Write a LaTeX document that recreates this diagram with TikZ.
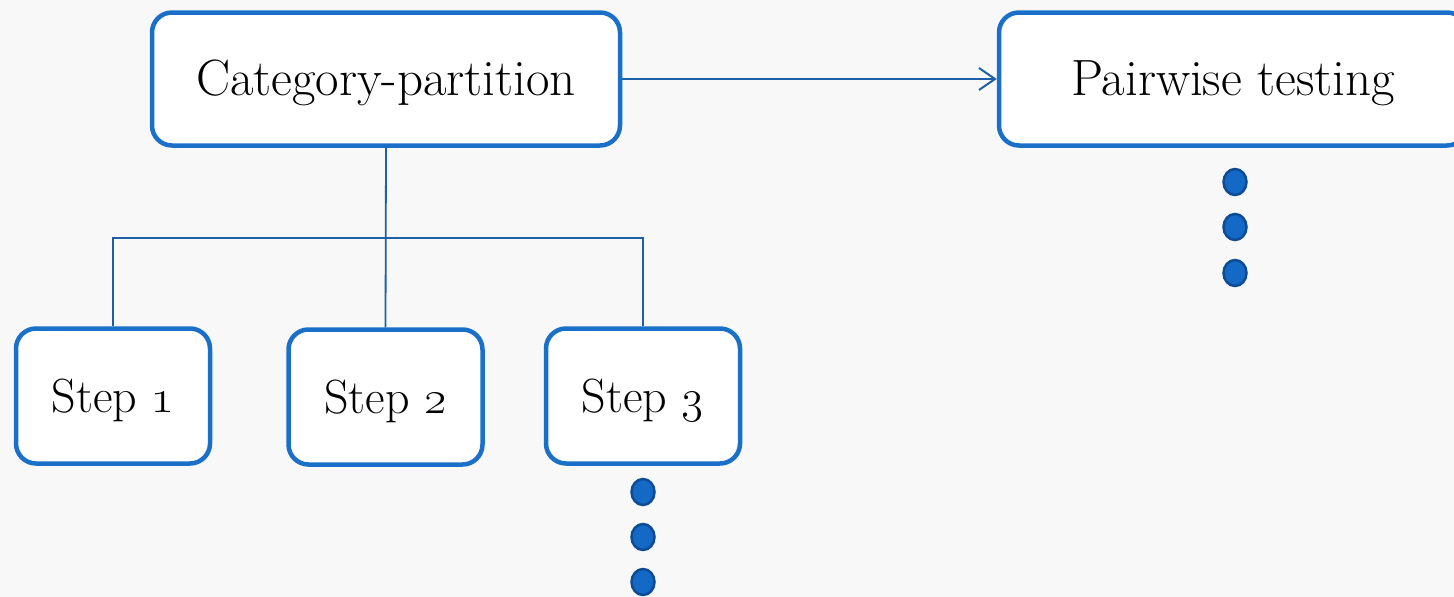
\documentclass[tikz,border=0pt]{standalone}
\usepackage{fix-cm}
\usetikzlibrary{arrows.meta,shapes.geometric}
\definecolor{boxblue}{HTML}{1A70C8}
\definecolor{lineblue}{HTML}{1F5FA8}
\definecolor{dotfill}{HTML}{1468C6}
\definecolor{dotedge}{HTML}{0D4C94}
\definecolor{bgcol}{HTML}{F8F8F8}
\tikzset{
  box/.style={draw=boxblue, line width=4.5pt, rounded corners=20pt, fill=white,
    text height=33pt, text depth=0pt, inner sep=0pt, align=center},
  bigbox/.style={box, font=\fontsize{51}{60}\selectfont, minimum width=468pt, minimum height=133pt},
  stepbox/.style={box, font=\fontsize{48}{58}\selectfont, minimum width=194pt, minimum height=135pt},
  treeline/.style={draw=lineblue, line width=1.8pt},
  arrowline/.style={draw=lineblue, line width=2pt, -{Straight Barb[length=16pt,width=22pt,line width=2pt]}},
  dot/.style={ellipse, draw=dotedge, line width=2.5pt, fill=dotfill,
    minimum width=23pt, minimum height=26pt, inner sep=0pt}
}
\begin{document}
\begin{tikzpicture}[x=1pt,y=-1pt]
\useasboundingbox (0,0) rectangle (1454,597);
\clip (0,0) rectangle (1454,597);
\fill[bgcol] (0,0) rectangle (1454,597);
\node[bigbox] (cat) at (386,79) {Category-partition};
\node[bigbox] (pair) at (1233,79) {Pairwise testing};
\node[stepbox] (s1) at (113,396) {Step \oldstylenums{1}};
\node[stepbox] (s2) at (385.5,397) {Step \oldstylenums{2}};
\node[stepbox] (s3) at (643,396) {Step \oldstylenums{3}};
\coordinate (bus) at (385.5,238);
\draw[treeline] (cat.south) -- (s2.north);
\draw[treeline] (s1.north) |- (bus) -| (s3.north);
\draw[arrowline] (cat.east) -- (pair.west);
\node[dot] (p1) at (1235,182) {};
\node[dot] (p2) at (1235,227) {};
\node[dot] (p3) at (1235,273) {};
\node[dot] (t1) at (643,492) {};
\node[dot] (t2) at (643,537) {};
\node[dot] (t3) at (643,582) {};
\end{tikzpicture}
\end{document}
